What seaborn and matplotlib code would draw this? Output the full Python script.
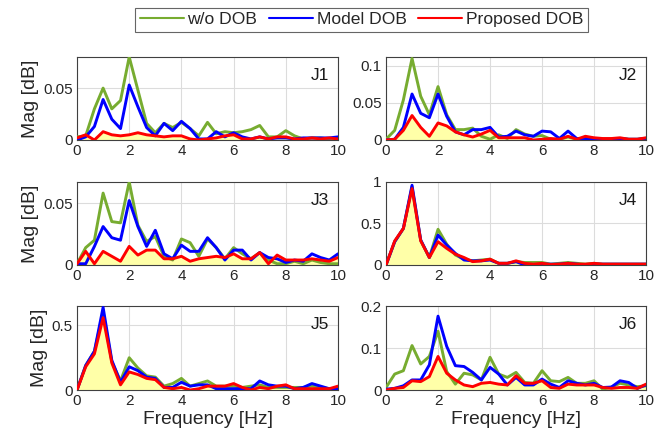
import numpy as np
import pandas as pd
import matplotlib
matplotlib.use("Agg")
import matplotlib.pyplot as plt
import seaborn as sns
from matplotlib.ticker import FuncFormatter

sns.set_style("white")
plt.rcParams['font.family'] = ['Liberation Sans', 'DejaVu Sans']

freq = [round(i / 3, 4) for i in range(31)]
series_names = ["w/o DOB", "Model DOB", "Proposed DOB"]
joint_names = ["J1", "J2", "J3", "J4", "J5", "J6"]

j1_wo = [0.003, 0.004, 0.030, 0.050, 0.030, 0.038, 0.080, 0.048, 0.016, 0.007, 0.016, 0.012, 0.017, 0.011, 0.004, 0.017,
         0.006, 0.008, 0.007, 0.008, 0.010, 0.014, 0.003, 0.003, 0.009, 0.004, 0.001, 0.002, 0.002, 0.001, 0.001]
j1_model = [0.000, 0.003, 0.013, 0.039, 0.020, 0.011, 0.053, 0.032, 0.012, 0.004, 0.016, 0.009, 0.018, 0.011, 0.001, 0.001,
            0.008, 0.003, 0.007, 0.003, 0.001, 0.003, 0.001, 0.002, 0.002, 0.001, 0.002, 0.002, 0.002, 0.002, 0.003]
j1_prop = [0.002, 0.005, 0.000, 0.008, 0.005, 0.004, 0.005, 0.007, 0.005, 0.004, 0.003, 0.004, 0.004, 0.001, 0.000, 0.001,
           0.002, 0.004, 0.005, 0.001, 0.001, 0.003, 0.001, 0.003, 0.003, 0.001, 0.001, 0.002, 0.001, 0.002, 0.001]

j2_wo = [0.001, 0.013, 0.054, 0.110, 0.059, 0.034, 0.072, 0.034, 0.014, 0.014, 0.016, 0.005, 0.001, 0.007, 0.002, 0.014,
         0.008, 0.005, 0.006, 0.001, 0.001, 0.004, 0.001, 0.002, 0.001, 0.001, 0.001, 0.002, 0.001, 0.001, 0.002]
j2_model = [0.000, 0.001, 0.017, 0.062, 0.036, 0.030, 0.062, 0.032, 0.011, 0.007, 0.014, 0.014, 0.017, 0.004, 0.005, 0.012,
            0.007, 0.005, 0.012, 0.011, 0.002, 0.012, 0.002, 0.002, 0.000, 0.001, 0.001, 0.002, 0.001, 0.001, 0.002]
j2_prop = [0.000, 0.001, 0.013, 0.033, 0.017, 0.005, 0.023, 0.019, 0.011, 0.007, 0.004, 0.008, 0.013, 0.003, 0.003, 0.003,
           0.003, 0.000, 0.001, 0.002, 0.001, 0.005, 0.001, 0.005, 0.003, 0.002, 0.002, 0.003, 0.001, 0.001, 0.003]

j3_wo = [0.001, 0.014, 0.020, 0.058, 0.035, 0.034, 0.067, 0.032, 0.019, 0.023, 0.007, 0.004, 0.021, 0.018, 0.007, 0.021,
         0.014, 0.005, 0.014, 0.009, 0.005, 0.010, 0.004, 0.001, 0.001, 0.003, 0.001, 0.004, 0.002, 0.001, 0.001]
j3_model = [0.001, 0.001, 0.015, 0.031, 0.022, 0.020, 0.052, 0.031, 0.015, 0.028, 0.009, 0.005, 0.016, 0.011, 0.011, 0.022,
            0.014, 0.004, 0.012, 0.012, 0.004, 0.010, 0.006, 0.005, 0.002, 0.004, 0.003, 0.009, 0.006, 0.004, 0.009]
j3_prop = [0.001, 0.011, 0.001, 0.011, 0.007, 0.003, 0.015, 0.008, 0.012, 0.012, 0.005, 0.005, 0.007, 0.003, 0.005, 0.006,
           0.007, 0.006, 0.009, 0.005, 0.005, 0.010, 0.001, 0.008, 0.004, 0.004, 0.004, 0.005, 0.004, 0.003, 0.006]

j4_wo = [0.00, 0.28, 0.44, 0.94, 0.30, 0.09, 0.43, 0.25, 0.12, 0.07, 0.05, 0.06, 0.07, 0.02, 0.02, 0.04,
         0.03, 0.03, 0.03, 0.01, 0.02, 0.03, 0.02, 0.01, 0.02, 0.01, 0.01, 0.01, 0.01, 0.01, 0.01]
j4_model = [0.00, 0.28, 0.44, 0.96, 0.30, 0.09, 0.36, 0.24, 0.14, 0.06, 0.05, 0.05, 0.06, 0.02, 0.02, 0.04,
            0.00, 0.00, 0.01, 0.01, 0.01, 0.02, 0.01, 0.00, 0.01, 0.01, 0.01, 0.01, 0.01, 0.01, 0.01]
j4_prop = [0.00, 0.29, 0.44, 0.92, 0.29, 0.09, 0.28, 0.20, 0.13, 0.09, 0.04, 0.05, 0.07, 0.02, 0.02, 0.05,
           0.02, 0.01, 0.02, 0.005, 0.01, 0.02, 0.01, 0.01, 0.02, 0.01, 0.01, 0.01, 0.01, 0.01, 0.01]

j5_wo = [0.00, 0.19, 0.30, 0.60, 0.22, 0.07, 0.25, 0.17, 0.11, 0.10, 0.03, 0.05, 0.09, 0.03, 0.05, 0.07,
         0.03, 0.03, 0.03, 0.02, 0.03, 0.04, 0.02, 0.02, 0.02, 0.02, 0.02, 0.03, 0.02, 0.01, 0.01]
j5_model = [0.00, 0.19, 0.30, 0.64, 0.23, 0.06, 0.18, 0.15, 0.10, 0.09, 0.02, 0.02, 0.06, 0.03, 0.04, 0.04,
            0.01, 0.01, 0.01, 0.01, 0.01, 0.07, 0.04, 0.03, 0.03, 0.01, 0.02, 0.05, 0.03, 0.01, 0.01]
j5_prop = [0.00, 0.18, 0.28, 0.56, 0.21, 0.04, 0.14, 0.12, 0.09, 0.08, 0.02, 0.01, 0.02, 0.00, 0.01, 0.03,
           0.03, 0.03, 0.05, 0.02, 0.00, 0.02, 0.01, 0.03, 0.04, 0.01, 0.01, 0.01, 0.01, 0.01, 0.03]

j6_wo = [0.006, 0.038, 0.046, 0.106, 0.062, 0.080, 0.140, 0.044, 0.014, 0.040, 0.036, 0.024, 0.078, 0.038, 0.030, 0.042,
         0.018, 0.016, 0.046, 0.022, 0.020, 0.030, 0.016, 0.016, 0.022, 0.002, 0.007, 0.016, 0.012, 0.008, 0.010]
j6_model = [0.002, 0.004, 0.010, 0.024, 0.024, 0.060, 0.176, 0.104, 0.058, 0.056, 0.042, 0.024, 0.054, 0.038, 0.012, 0.030,
            0.012, 0.012, 0.026, 0.014, 0.006, 0.022, 0.016, 0.012, 0.016, 0.006, 0.007, 0.022, 0.018, 0.004, 0.012]
j6_prop = [0.000, 0.004, 0.006, 0.022, 0.020, 0.032, 0.080, 0.040, 0.024, 0.012, 0.008, 0.016, 0.018, 0.014, 0.012, 0.034,
           0.016, 0.016, 0.022, 0.006, 0.004, 0.014, 0.012, 0.012, 0.012, 0.006, 0.004, 0.006, 0.006, 0.004, 0.014]

joint_data = {
    "J1": (j1_wo, j1_model, j1_prop),
    "J2": (j2_wo, j2_model, j2_prop),
    "J3": (j3_wo, j3_model, j3_prop),
    "J4": (j4_wo, j4_model, j4_prop),
    "J5": (j5_wo, j5_model, j5_prop),
    "J6": (j6_wo, j6_model, j6_prop),
}
y_limits = {"J1": 0.08, "J2": 0.112, "J3": 0.067, "J4": 1.0, "J5": 0.65, "J6": 0.2}
y_ticks = {"J1": [0, 0.05], "J2": [0, 0.05, 0.1], "J3": [0, 0.05], "J4": [0, 0.5, 1],
           "J5": [0, 0.5], "J6": [0, 0.1, 0.2]}

colors = {"w/o DOB": "#77AC30", "Model DOB": "#0000FF", "Proposed DOB": "#FF0000"}

fig = plt.figure(figsize=(6.65, 4.44), dpi=100)
lefts = [0.1158, 0.5805]
widths = [0.3925, 0.391]
bottoms = [0.6847, 0.4032, 0.1216]
heights = [0.187, 0.187, 0.189]

handles = None
for idx, jn in enumerate(joint_names):
    r, c = divmod(idx, 2)
    ax = fig.add_axes([lefts[c], bottoms[r], widths[c], heights[r]])
    wo, md, pr = joint_data[jn]
    df = pd.DataFrame({
        "Frequency": freq * 3,
        "Mag": list(wo) + list(md) + list(pr),
        "Series": [series_names[0]] * 31 + [series_names[1]] * 31 + [series_names[2]] * 31,
    })
    ax.fill_between(freq, pr, 0, color="#FFFFA8", zorder=1, linewidth=0)
    sns.lineplot(data=df, x="Frequency", y="Mag", hue="Series", hue_order=series_names,
                 palette=colors, linewidth=2.1, ax=ax, legend=(idx == 0), zorder=3)
    if idx == 0:
        handles, labels = ax.get_legend_handles_labels()
        ax.get_legend().remove()
    ax.set_xlim(0, 10)
    ax.set_ylim(0, y_limits[jn])
    ax.set_xticks([0, 2, 4, 6, 8, 10])
    ax.set_yticks(y_ticks[jn])
    ax.yaxis.set_major_formatter(FuncFormatter(lambda v, p: f"{v:g}"))
    ax.grid(True, color="#DCDCDC", linewidth=0.8)
    ax.set_axisbelow(True)
    for s in ax.spines.values():
        s.set_color("#404040")
        s.set_linewidth(0.8)
    ax.tick_params(direction="in", length=3, labelsize=11, colors="#262626", pad=3)
    ax.text(0.965, 0.78, jn, transform=ax.transAxes, ha="right", va="center",
            fontsize=12.5, color="#1a1a1a", zorder=5)
    if c == 0:
        ax.set_ylabel("Mag [dB]", fontsize=14, color="#262626", labelpad=3)
    else:
        ax.set_ylabel("")
    if r == 2:
        ax.set_xlabel("Frequency [Hz]", fontsize=13.8, color="#262626", labelpad=2)
    else:
        ax.set_xlabel("")

leg = fig.legend(handles, labels, loc="center", bbox_to_anchor=(0.5436, 0.956), ncol=3,
                 frameon=True, fancybox=False, fontsize=12.6, handlelength=2.5,
                 columnspacing=0.67, handletextpad=0.22, borderpad=0.25)
leg.get_frame().set_edgecolor("#404040")
leg.get_frame().set_linewidth(0.8)
for line in leg.get_lines():
    line.set_linewidth(1.5)

fig.savefig("out.png", dpi=100)
